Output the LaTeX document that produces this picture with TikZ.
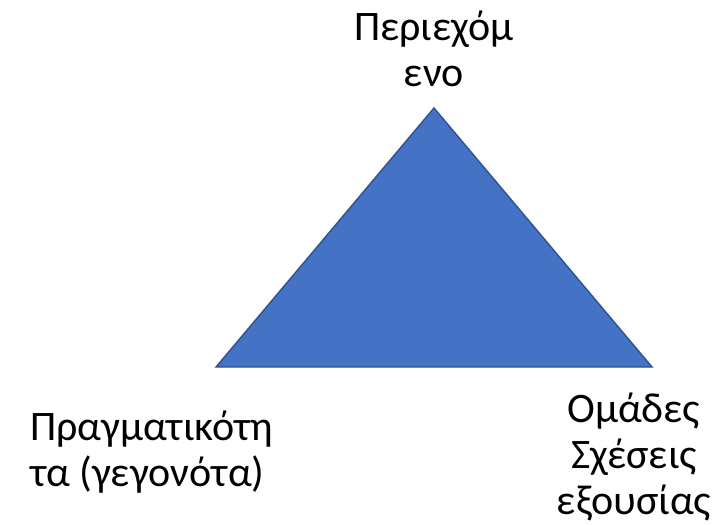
\documentclass[tikz,border=0pt]{standalone}
\usepackage{fontspec}
\setmainfont{Carlito}
\usetikzlibrary{positioning}

\definecolor{triblue}{HTML}{4472C4}
\definecolor{triedge}{HTML}{2F528F}

\tikzset{
  corner label/.style={font=\fontsize{23.9}{26.2}\selectfont, inner sep=0pt}
}

\begin{document}
\begin{tikzpicture}[x=0.02cm,y=-0.02cm]
  \useasboundingbox (0,0) rectangle (726,524);
  % triangle
  \coordinate (apex) at (434,108);
  \coordinate (bl) at (216,367);
  \coordinate (br) at (652,367);
  \filldraw[fill=triblue, draw=triedge, line width=0.8pt] (apex) -- (br) -- (bl) -- cycle;
  % labels
  \node[corner label, align=center] (content) at (434,49) {Περιεχόμ\\ενο};
  \node[corner label, align=left, anchor=west] (reality) at (30,452) {Πραγματικότη\\τα (γεγονότα)};
  \node[corner label, align=center] (groups) at (634,457) {Ομάδες\\Σχέσεις\\εξουσίας};
\end{tikzpicture}
\end{document}
